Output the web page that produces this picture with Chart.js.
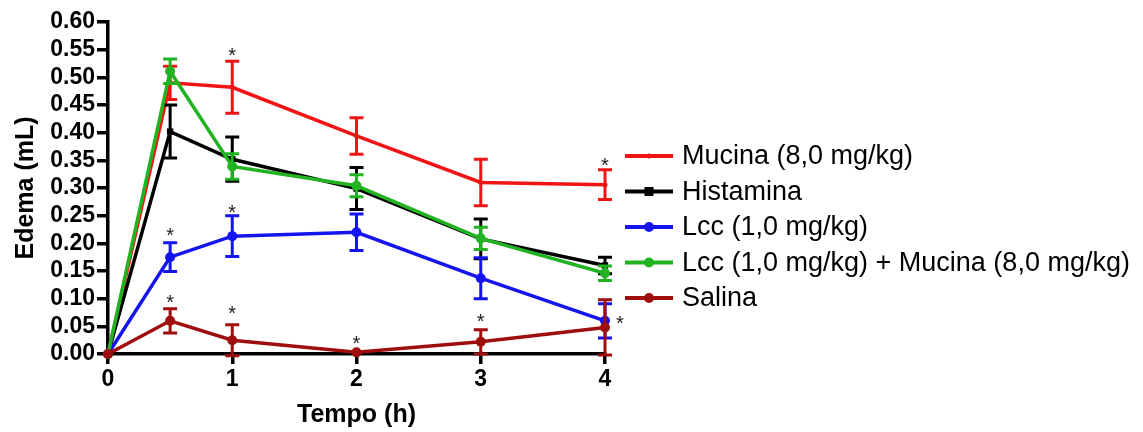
<!DOCTYPE html>
<html>
<head>
<meta charset="utf-8">
<script src="https://cdn.jsdelivr.net/npm/chart.js@4.4.1/dist/chart.umd.min.js"></script>
<style>
  html, body { margin: 0; padding: 0; background: #fff; }
</style>
</head>
<body>
<canvas id="chart" width="1143" height="432"></canvas>
<script>
// time points (h)
const times = [0, 0.5, 1, 2, 3, 4];

const labels = [
  "Mucina (8,0 mg/kg)",
  "Histamina",
  "Lcc (1,0 mg/kg)",
  "Lcc (1,0 mg/kg) + Mucina (8,0 mg/kg)",
  "Salina"
];

// mean edema (mL) and error
const mucina      = [0, 0.490, 0.482, 0.394, 0.310, 0.306];
const mucinaErr   = [0, 0.030, 0.047, 0.033, 0.042, 0.027];
const histamina   = [0, 0.402, 0.352, 0.299, 0.208, 0.160];
const histaminaErr= [0, 0.048, 0.040, 0.038, 0.036, 0.015];
const lcc         = [0, 0.175, 0.213, 0.220, 0.137, 0.060];
const lccErr      = [0, 0.026, 0.037, 0.033, 0.037, 0.031];
const lccMucina   = [0, 0.511, 0.339, 0.304, 0.209, 0.146];
const lccMucinaErr= [0, 0.022, 0.023, 0.020, 0.020, 0.013];
const salina      = [0, 0.060, 0.025, 0.003, 0.022, 0.048];
const salinaErr   = [0, 0.022, 0.028, 0, 0.022, 0.050];

const yTicks = [0, 0.05, 0.10, 0.15, 0.20, 0.25, 0.30, 0.35, 0.40, 0.45, 0.50, 0.55, 0.60];
const xTicks = [0, 1, 2, 3, 4];

// significance marks (*) in data coordinates
const starX = [1, 4, 0.5, 1, 0.5, 1, 2, 3, 4.12];
const starY = [0.549, 0.350, 0.225, 0.266, 0.103, 0.083, 0.029, 0.069, 0.065];

const FONT = "'Liberation Sans', Arial, sans-serif";

function pts(vals) {
  return times.map((t, i) => ({ x: t, y: vals[i] }));
}

const errorBars = {
  id: "errorBars",
  afterDatasetDraw(chart, args) {
    const ds = chart.data.datasets[args.index];
    if (!ds.err) return;
    const { ctx, scales: { x, y } } = chart;
    ctx.save();
    ctx.strokeStyle = ds.borderColor;
    ctx.lineWidth = 3;
    ds.err.forEach((e, i) => {
      if (!e) return;
      const px = x.getPixelForValue(times[i]);
      const top = y.getPixelForValue(ds.data[i].y + e);
      const bot = y.getPixelForValue(ds.data[i].y - e);
      ctx.beginPath();
      ctx.moveTo(px, top); ctx.lineTo(px, bot);
      ctx.moveTo(px - 7, top); ctx.lineTo(px + 7, top);
      ctx.moveTo(px - 7, bot); ctx.lineTo(px + 7, bot);
      ctx.stroke();
    });
    ctx.restore();
  }
};

const extras = {
  id: "extras",
  afterDraw(chart) {
    const { ctx, scales: { x, y } } = chart;
    ctx.save();
    // asterisks
    ctx.fillStyle = "#222";
    ctx.font = "20px " + FONT;
    ctx.textAlign = "center";
    ctx.textBaseline = "alphabetic";
    starX.forEach((sx, i) => {
      ctx.fillText("*", x.getPixelForValue(sx), y.getPixelForValue(starY[i]) + 12);
    });
    // legend
    ctx.font = "27px " + FONT;
    ctx.textAlign = "left";
    ctx.textBaseline = "middle";
    chart.data.datasets.forEach((ds, i) => {
      const ly = 156 + i * 35.5;
      ctx.strokeStyle = ds.borderColor;
      ctx.lineWidth = 4;
      ctx.beginPath();
      ctx.moveTo(625, ly); ctx.lineTo(673, ly);
      ctx.stroke();
      ctx.fillStyle = ds.borderColor;
      const r = ds.pointRadius;
      if (ds.pointStyle === "rect") {
        ctx.fillRect(649 - r, ly - r, 2 * r, 2 * r);
      } else {
        ctx.beginPath();
        ctx.arc(649, ly, r, 0, Math.PI * 2);
        ctx.fill();
      }
      ctx.fillStyle = "#000";
      ctx.fillText(ds.label, 682, ly + 1);
    });
    ctx.restore();
  }
};

const colors = ["#f21414", "#000000", "#1414f0", "#22b322", "#a00d0d"];
const values = [mucina, histamina, lcc, lccMucina, salina];
const errors = [mucinaErr, histaminaErr, lccErr, lccMucinaErr, salinaErr];
const orders = [4, 3, 2, 1, 0];
const styles = ["circle", "rect", "circle", "circle", "circle"];
const radii = [2.5, 4.5, 5, 5, 5];

new Chart(document.getElementById("chart"), {
  type: "line",
  data: {
    datasets: labels.map((lab, i) => ({
      label: lab,
      data: pts(values[i]),
      err: errors[i],
      borderColor: colors[i],
      backgroundColor: colors[i],
      borderWidth: 3.5,
      pointStyle: styles[i],
      pointRadius: radii[i],
      pointBorderWidth: 0,
      tension: 0,
      clip: false,
      order: orders[i]
    }))
  },
  options: {
    responsive: false,
    animation: false,
    layout: { padding: { top: 22, right: 538, bottom: 0, left: 0 } },
    plugins: { legend: { display: false }, tooltip: { enabled: false } },
    scales: {
      x: {
        type: "linear",
        min: 0, max: 4,
        afterBuildTicks: s => { s.ticks = xTicks.map(v => ({ value: v })); },
        afterFit: s => { s.height = 78; },
        border: { color: "#000", width: 3.5 },
        grid: { drawOnChartArea: false, color: "#000", lineWidth: 3.5, tickLength: 10 },
        ticks: { color: "#000", padding: 2, autoSkip: false, font: { family: FONT, size: 23, weight: "bold" } },
        title: { display: true, text: "Tempo (h)", color: "#000", padding: { top: 0, bottom: 2 },
                 font: { family: FONT, size: 25, weight: "bold" } }
      },
      y: {
        min: 0, max: 0.6,
        afterBuildTicks: s => { s.ticks = yTicks.map(v => ({ value: v })); },
        afterFit: s => { s.width = 108; },
        border: { color: "#000", width: 3.5 },
        grid: { drawOnChartArea: false, color: "#000", lineWidth: 3.5, tickLength: 11 },
        ticks: { color: "#000", padding: 2, autoSkip: false, callback: v => v.toFixed(2),
                 font: { family: FONT, size: 23, weight: "bold" } },
        title: { display: true, text: "Edema (mL)", color: "#000", padding: { top: 11, bottom: 0 },
                 font: { family: FONT, size: 25, weight: "bold" } }
      }
    }
  },
  plugins: [errorBars, extras]
});
</script>
</body>
</html>
